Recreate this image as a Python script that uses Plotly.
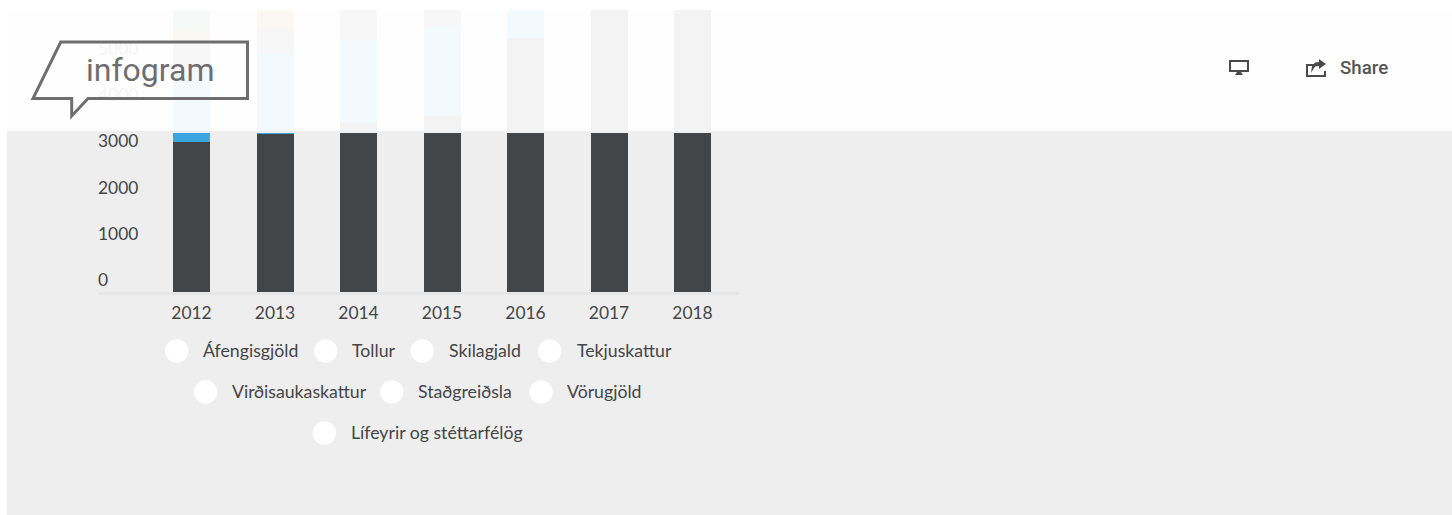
import plotly.graph_objects as go

W, H = 1452, 515

years = [2012, 2013, 2014, 2015, 2016, 2017, 2018]
stadgreidsla = [3247, 3420, 3658, 3810, 5498, 6500, 6500]
virdisauki = [1515, 1710, 1797, 1926, 1002, 0, 0]
tekjuskattur = [628, 584, 1045, 764, 0, 0, 0]
tollur = [260, 786, 0, 0, 0, 0, 0]
vorugjold = [850, 0, 0, 0, 0, 0, 0]

y_ticks = [0, 1000, 2000, 3000, 4000, 5000, 6000]
legend_names = ["Áfengisgjöld", "Tollur", "Skilagjald", "Tekjuskattur",
                "Virðisaukaskattur", "Staðgreiðsla", "Vörugjöld",
                "Lífeyrir og stéttarfélög"]

# layout only (pixel positions of the custom legend: circle centre, text left, row y)
legend_layout = [(176.7, 203, 351), (325.7, 352, 351), (422.3, 449, 351), (549.7, 576.7, 351),
                 (205.7, 231.7, 392), (391.7, 417.7, 392), (541, 566.7, 392),
                 (324.3, 351, 433)]


def px(x):
    return x / W


def py(y):
    return 1 - y / H


def path(*pts, close=True):
    s = "M" + " L".join(f"{px(a):.5f},{py(b):.5f}" for a, b in pts)
    return s + (" Z" if close else "")


TEXT = "#444547"
FONT = "Lato"

fig = go.Figure()
series = [("Staðgreiðsla", stadgreidsla, "#444547"),
          ("Virðisaukaskattur", virdisauki, "#3CA6E0"),
          ("Tekjuskattur", tekjuskattur, "#7C7C7C"),
          ("Tollur", tollur, "#C08A5A"),
          ("Vörugjöld", vorugjold, "#7FA595")]
for name, vals, col in series:
    fig.add_bar(x=years, y=vals, name=name, marker=dict(color=col, line_width=0), showlegend=False)

shapes = [
    dict(type="rect", xref="paper", yref="paper", x0=px(7), x1=1, y0=0, y1=py(10),
         fillcolor="#EEEEEE", line_width=0, layer="below"),
    dict(type="rect", xref="paper", yref="paper", x0=0, x1=1, y0=py(10), y1=1,
         fillcolor="#FFFFFF", line_width=0, layer="above"),
    dict(type="rect", xref="paper", yref="paper", x0=px(7), x1=1, y0=py(133), y1=py(131),
         fillcolor="#EEEEEE", line_width=0, layer="above"),
    dict(type="rect", xref="paper", yref="paper", x0=0, x1=1, y0=py(131), y1=1,
         fillcolor="#FFFFFF", opacity=0.936, line_width=0, layer="above"),
    # logo speech bubble
    dict(type="path", xref="paper", yref="paper",
         path=path((60.7, 42), (247.5, 42), (247.5, 98.5), (88, 98.5), (71.7, 116),
                   (71.7, 98.5), (33, 98.5)),
         line=dict(color="#6E6E6E", width=3), layer="above"),
    # monitor icon
    dict(type="path", xref="paper", yref="paper",
         path=path((1230, 61), (1248, 61), (1248, 71), (1230, 71)),
         line=dict(color="#4A4A4A", width=2), layer="above"),
    dict(type="path", xref="paper", yref="paper",
         path=path((1237, 72), (1241, 72), (1243, 75), (1235, 75)),
         fillcolor="#4A4A4A", line_width=0, layer="above"),
    # share icon: box
    dict(type="path", xref="paper", yref="paper",
         path=path((1315, 65), (1307, 65), (1307, 76), (1325, 76), (1325, 71), close=False),
         line=dict(color="#4A4A4A", width=2), layer="above"),
    # share icon: arrow
    dict(type="path", xref="paper", yref="paper",
         path=path((1319, 59), (1326, 64), (1319, 69), (1319, 66), (1315, 66.5), (1311, 73),
                   (1312, 66), (1315, 62.5), (1319, 62)),
         fillcolor="#4A4A4A", line_width=0, layer="above"),
]

annotations = [
    dict(text="infogram", x=px(149.5), y=py(70), xref="paper", yref="paper", showarrow=False,
         xanchor="center", yanchor="middle",
         font=dict(family="Roboto", size=32, color="#6E6E6E")),
    dict(text="Share", x=px(1340), y=py(68), xref="paper", yref="paper", showarrow=False,
         xanchor="left", yanchor="middle", xshift=-2,
         font=dict(family="Roboto", size=18.7, color="#555555", weight=500)),
]

for name, (cx, tx, ry) in zip(legend_names, legend_layout):
    shapes.append(dict(type="circle", xref="paper", yref="paper", x0=px(cx - 11.7), x1=px(cx + 11.7),
                       y0=py(ry + 11.7), y1=py(ry - 11.7), fillcolor="#FFFFFF", line_width=0, layer="below"))
    annotations.append(dict(text=name, x=px(tx), y=py(ry - 1), xref="paper", yref="paper", showarrow=False,
                            xanchor="left", yanchor="middle", xshift=-2,
                            font=dict(family=FONT, size=17.7, color=TEXT)))

step = 83.5
fig.update_layout(
    width=W, height=H, autosize=False, margin=dict(l=0, r=0, t=0, b=0),
    paper_bgcolor="#FFFFFF", plot_bgcolor="rgba(0,0,0,0)",
    barmode="stack", bargap=1 - 37 / step, shapes=shapes, annotations=annotations,
    xaxis=dict(domain=[px(98), px(739)], range=[2012 - 93.5 / step, 2018 + 46.5 / step],
               tickvals=years, ticktext=[str(v) for v in years], ticks="", showgrid=False, zeroline=False,
               showline=True, linecolor="#E6E6E6", linewidth=3, layer="below traces", ticklabelstandoff=3,
               tickfont=dict(family=FONT, size=17.4, color=TEXT)),
    yaxis=dict(domain=[py(292), py(10)], range=[0, 282 / 0.0462], tickvals=y_ticks,
               ticks="", showgrid=False, zeroline=False, showline=False, ticklabelstandoff=-3,
               ticklabelposition="inside top", tickfont=dict(family=FONT, size=17.4, color=TEXT)),
)

fig.write_html("out.html", config=dict(displayModeBar=False),
               post_script="document.body.style.margin='0';document.body.style.overflow='hidden';")
